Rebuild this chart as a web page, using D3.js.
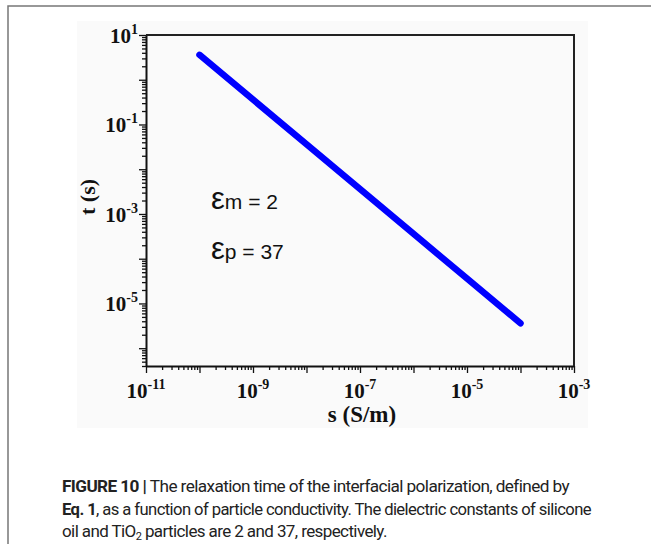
<!DOCTYPE html>
<html>
<head>
<meta charset="utf-8">
<script src="https://cdn.jsdelivr.net/npm/d3@7"></script>
<style>
  body { margin: 0; background: #fff; }
  svg { display: block; }
</style>
</head>
<body>
<svg id="chart"></svg>
<script>
// conductivity (S/m) and relaxation time (s)
const conductivity = [1e-10, 1e-9, 1e-8, 1e-7, 1e-6, 1e-5, 1e-4];
const relaxTime = [3.6, 0.36, 0.036, 0.0036, 0.00036, 0.000036, 0.0000036];

const xLabelExps = [-11, -9, -7, -5, -3];
const yLabelExps = [1, -1, -3, -5];
const xDecades = [-11, -10, -9, -8, -7, -6, -5, -4, -3];
const yDecades = [1, 0, -1, -2, -3, -4, -5, -6];

const annotations = [
  { sub: "m", rest: " = 2" },
  { sub: "p", rest: " = 37" }
];

const captionLines = [
  [{ t: "FIGURE 10 | ", b: true }, { t: "The relaxation time of the interfacial polarization, defined by" }],
  [{ t: "Eq. 1", b: true }, { t: ", as a function of particle conductivity. The dielectric constants of silicone" }],
  [{ t: "oil and TiO" }, { t: "2", sub: true }, { t: " particles are 2 and 37, respectively.", after: true }]
];

const width = 651, height = 544;
const margin = { top: 35, right: 77, bottom: 178, left: 146 };

const svg = d3.select("#chart").attr("width", width).attr("height", height);

// figure frame and light image background
svg.append("rect")
   .attr("x", 8).attr("y", 6).attr("width", 700).attr("height", 600)
   .attr("fill", "none").attr("stroke", "#777").attr("stroke-width", 1.5);
svg.append("rect")
   .attr("x", 77).attr("y", 21).attr("width", 511).attr("height", 407)
   .attr("fill", "#fafafa");

const x = d3.scaleLog()
            .domain([1e-11, 1e-3])
            .range([margin.left, width - margin.right]);

const y = d3.scaleLog()
            .domain([4e-7, 10])
            .range([height - margin.bottom, margin.top]);

// tick values: decades plus 2..9 minors
const minorX = [];
xDecades.slice(0, -1).forEach(e => { for (let k = 2; k <= 9; k++) minorX.push(k * Math.pow(10, e)); });
const minorY = [];
yDecades.forEach(e => { for (let k = 2; k <= 9; k++) { const v = k * Math.pow(10, e - 1); if (v >= 4e-7) minorY.push(v); } });

const isMajor = v => Math.abs(Math.log10(v) - Math.round(Math.log10(v))) < 1e-6;

// X Axis
const xAxis = svg.append("g")
   .attr("transform", `translate(0,${height - margin.bottom})`)
   .call(d3.axisBottom(x)
           .tickValues(xDecades.map(e => Math.pow(10, e)).concat(minorX))
           .tickFormat("")
           .tickSizeOuter(0));
xAxis.select(".domain").attr("stroke", "#111").attr("stroke-width", 2);
xAxis.selectAll(".tick line")
     .attr("stroke", "#111").attr("stroke-width", 1.3)
     .attr("y2", d => isMajor(d) ? 7 : 4);

// Y Axis
const yAxis = svg.append("g")
   .attr("transform", `translate(${margin.left},0)`)
   .call(d3.axisLeft(y)
           .tickValues(yDecades.map(e => Math.pow(10, e)).concat(minorY))
           .tickFormat("")
           .tickSizeOuter(0));
yAxis.select(".domain").attr("stroke", "#111").attr("stroke-width", 2);
yAxis.selectAll(".tick line")
     .attr("stroke", "#111").attr("stroke-width", 1.3)
     .attr("x2", d => isMajor(d) ? -7 : -4);

// top and right frame
svg.append("path")
   .attr("d", `M${x.range()[0]},${y.range()[1]}H${x.range()[1]}V${y.range()[0]}`)
   .attr("fill", "none").attr("stroke", "#222").attr("stroke-width", 2);

// tick labels 10^n
const serif = "'Liberation Serif', 'Times New Roman', serif";
xLabelExps.forEach(e => {
  const t = svg.append("text")
     .attr("x", x(Math.pow(10, e)))
     .attr("y", 398)
     .attr("text-anchor", "middle")
     .attr("font-family", serif).attr("font-weight", "bold")
     .attr("font-size", 21).attr("fill", "#111");
  t.append("tspan").text("10");
  t.append("tspan").attr("dy", -9).attr("font-size", 14).text(`${e}`);
});

yLabelExps.forEach(e => {
  const t = svg.append("text")
     .attr("x", 138)
     .attr("y", y(Math.pow(10, e)) + 8)
     .attr("text-anchor", "end")
     .attr("font-family", serif).attr("font-weight", "bold")
     .attr("font-size", 21).attr("fill", "#111");
  t.append("tspan").text("10");
  t.append("tspan").attr("dy", -9).attr("font-size", 14).text(`${e}`);
});

// axis titles
svg.append("text")
   .attr("transform", "translate(95,197) rotate(-90)")
   .attr("text-anchor", "middle")
   .attr("font-family", serif).attr("font-weight", "bold").attr("font-size", 22)
   .attr("fill", "#111")
   .text("t (s)");

svg.append("text")
   .attr("x", 362).attr("y", 422)
   .attr("text-anchor", "middle")
   .attr("font-family", serif).attr("font-weight", "bold").attr("font-size", 23)
   .attr("fill", "#111")
   .text("s (S/m)");

// relaxation line
const line = d3.line()
   .x((d, i) => x(conductivity[i]))
   .y(d => y(d));

svg.append("path")
   .datum(relaxTime)
   .attr("d", line)
   .attr("fill", "none")
   .attr("stroke", "#0000ff")
   .attr("stroke-width", 6.5)
   .attr("stroke-linecap", "round");

// epsilon annotations
annotations.forEach((a, i) => {
  const t = svg.append("text")
     .attr("x", 211).attr("y", 209 + i * 50)
     .attr("font-family", "'Liberation Sans', Arial, sans-serif")
     .attr("font-size", 21).attr("fill", "#111");
  t.append("tspan").attr("font-size", 31).text("ε");
  t.append("tspan").text(a.sub + a.rest);
});

// caption
const capWidths = [507, 529, null];
captionLines.forEach((parts, i) => {
  const t = svg.append("text")
     .attr("x", 62).attr("y", 492 + i * 22.5)
     .attr("font-family", "Roboto, 'Liberation Sans', sans-serif")
     .attr("font-size", 17).attr("fill", "#222")
     .attr("letter-spacing", -0.6);
  parts.forEach(p => {
    const s = t.append("tspan").text(p.t);
    if (p.b) s.attr("font-weight", "bold");
    if (p.sub) s.attr("font-size", 11).attr("dy", 3);
    if (p.after) s.attr("dy", -3);
  });
  if (capWidths[i]) t.attr("textLength", capWidths[i]).attr("lengthAdjust", "spacingAndGlyphs");
});
</script>
</body>
</html>
